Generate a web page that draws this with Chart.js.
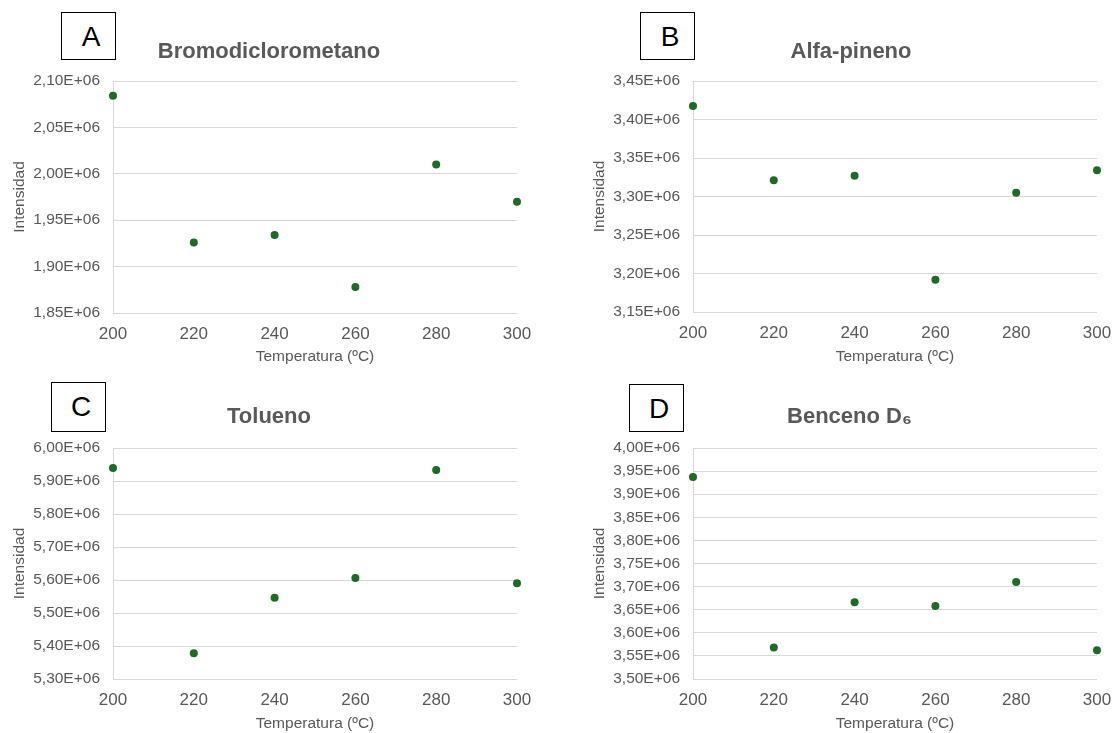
<!DOCTYPE html>
<html>
<head>
<meta charset="utf-8">
<script src="https://cdn.jsdelivr.net/npm/chart.js@4.4.1/dist/chart.umd.min.js"></script>
<style>
  body { margin: 0; background: #fff; }
  #wrap { position: relative; width: 1115px; height: 733px; background: #fff; overflow: hidden; }
  canvas { position: absolute; }
  .tag {
    position: absolute; box-sizing: border-box; border: 1px solid #000;
    font: 28px 'Liberation Sans', Arial, sans-serif; color: #000;
    text-align: center; padding-left: 5px; padding-top: 8px; background: #fff;
  }
</style>
</head>
<body>
<div id="wrap">
  <canvas id="chartA" width="557" height="366" style="left:0;top:0"></canvas>
  <canvas id="chartB" width="558" height="366" style="left:557px;top:0"></canvas>
  <canvas id="chartC" width="557" height="367" style="left:0;top:366px"></canvas>
  <canvas id="chartD" width="558" height="367" style="left:557px;top:366px"></canvas>
  <div class="tag" style="left:61px;top:12px;width:55px;height:48px">A</div>
  <div class="tag" style="left:640px;top:12px;width:55px;height:48px">B</div>
  <div class="tag" style="left:51px;top:382px;width:55px;height:50px">C</div>
  <div class="tag" style="left:629px;top:384px;width:55px;height:48px">D</div>
</div>
<script>
// temperatures (x) shared by all four panels
var temperaturas = [200, 220, 240, 260, 280, 300];

// intensities
var bromodiclorometano = [2.084e6, 1.926e6, 1.934e6, 1.878e6, 2.010e6, 1.970e6];
var alfaPineno = [3.4175e6, 3.321e6, 3.327e6, 3.192e6, 3.305e6, 3.334e6];
var tolueno = [5.9395e6, 5.378e6, 5.546e6, 5.606e6, 5.933e6, 5.590e6];
var bencenoD6 = [3.937e6, 3.568e6, 3.666e6, 3.658e6, 3.710e6, 3.562e6];

// y axis ranges: [min, max, step]
var rangoA = [1.85e6, 2.10e6, 0.05e6];
var rangoB = [3.15e6, 3.45e6, 0.05e6];
var rangoC = [5.30e6, 6.00e6, 0.10e6];
var rangoD = [3.50e6, 4.00e6, 0.05e6];

var xRango = [200, 300, 20];

var FONT = "'Liberation Sans', Arial, sans-serif";
var GRIS = '#595959';

function sci(v) {
    return (v / 1e6).toFixed(2).replace('.', ',') + 'E+06';
}

function makeChart(id, titulo, valores, rango, p) {
    var ctx = document.getElementById(id).getContext('2d');
    var puntos = temperaturas.map(function (t, i) { return { x: t, y: valores[i] }; });
    return new Chart(ctx, {
        type: 'scatter',
        data: {
            datasets: [{
                label: titulo,
                data: puntos,
                backgroundColor: '#1d6b27',
                borderWidth: 0,
                pointRadius: 4,
                pointHoverRadius: 4,
                clip: false
            }]
        },
        options: {
            responsive: false,
            animation: false,
            layout: { padding: { left: p.pl, right: p.pr, top: 0, bottom: 0 } },
            plugins: {
                legend: { display: false },
                tooltip: { enabled: false },
                title: {
                    display: true,
                    text: titulo,
                    color: GRIS,
                    font: { family: FONT, size: 22, weight: 'bold' },
                    padding: { top: p.tt, bottom: p.tb }
                }
            },
            scales: {
                x: {
                    type: 'linear',
                    min: xRango[0],
                    max: xRango[1],
                    ticks: { stepSize: xRango[2], color: GRIS, font: { family: FONT, size: 17 }, padding: p.xtp },
                    grid: { display: false },
                    border: { display: false },
                    title: {
                        display: true, text: 'Temperatura (ºC)', color: GRIS,
                        font: { family: FONT, size: 15.5 }, padding: { top: 0, bottom: p.xtb }
                    },
                    afterFit: function (s) { s.height = p.xh; }
                },
                y: {
                    min: rango[0],
                    max: rango[1],
                    ticks: {
                        stepSize: rango[2], color: GRIS, font: { family: FONT, size: 15.5 }, padding: 13,
                        callback: function (v) { return sci(v); }
                    },
                    grid: { color: '#d9d9d9', drawTicks: false },
                    border: { display: true, color: '#d9d9d9' },
                    title: {
                        display: true, text: 'Intensidad', color: GRIS,
                        font: { family: FONT, size: 15.5 }, padding: { top: p.ytp, bottom: 0 }
                    },
                    afterFit: function (s) { s.width = p.yw; }
                }
            }
        }
    });
}

makeChart('chartA', 'Bromodiclorometano', bromodiclorometano, rangoA,
    { pl: 21, pr: 40, yw: 92, ytp: -11, tt: 39, tb: 15.6, xh: 53, xtp: 3, xtb: 0 });
makeChart('chartB', 'Alfa-pineno', alfaPineno, rangoB,
    { pl: 48, pr: 18, yw: 88, ytp: -15, tt: 39, tb: 15.6, xh: 54, xtp: 3, xtb: 0 });
makeChart('chartC', 'Tolueno', tolueno, rangoC,
    { pl: 21, pr: 40, yw: 92, ytp: -11, tt: 37.8, tb: 17.8, xh: 54, xtp: 3.5, xtb: 0 });
makeChart('chartD', 'Benceno D\u2086', bencenoD6, rangoD,
    { pl: 45, pr: 18, yw: 91, ytp: -12, tt: 37.8, tb: 17.8, xh: 54, xtp: 3.5, xtb: 0 });
</script>
</body>
</html>
